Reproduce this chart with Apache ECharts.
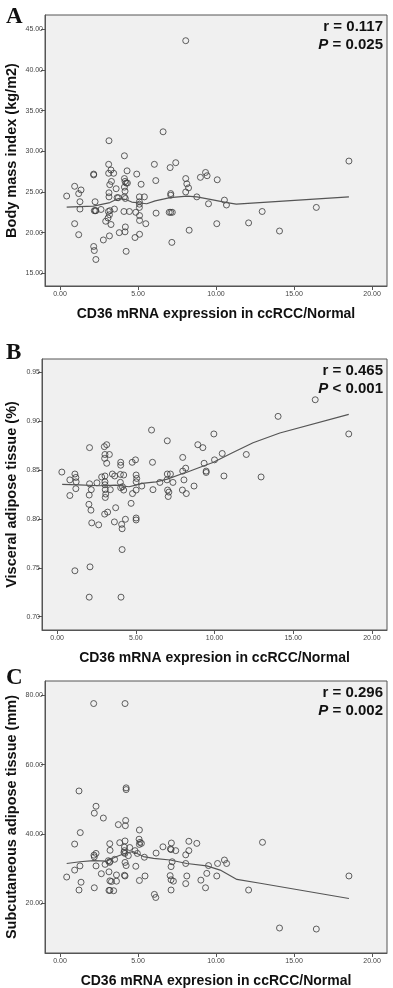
<!DOCTYPE html>
<html>
<head>
<meta charset="utf-8">
<title>CD36 mRNA expression correlations</title>
<script src="https://cdn.jsdelivr.net/npm/echarts@6/dist/echarts.min.js"></script>
<style>
  html, body { margin: 0; padding: 0; background: #fff; }
  #chart { width: 393px; height: 988px; }
</style>
</head>
<body>
<div id="chart"></div>
<script>
// --- data ---
const xTicks = [0, 5, 10, 15, 20];
const bmiTicks = [15, 20, 25, 30, 35, 40, 45];
const vatTicks = [0.70, 0.75, 0.80, 0.85, 0.90, 0.95];
const satTicks = [20, 40, 60, 80];

// A: CD36 ratio vs body mass index
const bmiPoints = [
  [0.43, 24.5], [0.94, 25.7], [0.94, 21.1], [1.2, 24.8], [1.35, 25.25], [1.28, 23.8], [1.28, 22.9], [1.2, 19.75],
  [2.16, 27.2], [2.16, 27.1], [2.2, 22.7], [2.26, 22.7], [2.3, 22.7], [2.25, 23.8], [2.16, 18.3], [2.2, 17.8], [2.3, 16.7],
  [2.63, 22.85], [2.78, 19.1], [2.93, 21.4], [3.12, 28.4], [3.12, 27.3], [3.19, 25.9], [3.27, 27.7], [3.3, 26.3],
  [3.14, 24.9], [3.14, 24.4], [3.2, 22.7], [3.1, 22.6], [3.17, 22.2], [3.08, 21.8], [3.27, 21.0], [3.17, 19.6],
  [3.44, 27.3], [3.49, 22.9], [3.6, 25.4], [3.74, 24.3], [3.66, 24.3], [3.8, 20.0],
  [4.13, 29.45], [4.13, 26.65], [4.17, 26.3], [4.24, 26.1], [4.13, 25.6], [4.17, 25.1], [4.13, 24.4], [4.19, 24.2],
  [4.1, 22.6], [4.19, 20.7], [4.17, 20.1], [4.24, 17.7], [4.3, 27.6], [4.32, 26.1], [4.45, 22.6], [4.81, 19.4],
  [4.92, 27.2], [4.86, 22.5], [5.09, 24.4], [5.09, 23.8], [5.09, 23.5], [5.09, 23.1], [5.1, 22.1], [5.1, 21.5],
  [5.1, 19.8], [5.2, 25.95], [5.41, 24.4], [5.5, 21.1], [6.05, 28.4], [6.14, 26.4], [6.16, 22.4],
  [7.06, 28.0], [7.1, 24.8], [7.1, 24.6], [7.0, 22.5], [7.1, 22.5], [7.2, 22.5], [7.17, 18.8], [7.42, 28.6],
  [8.06, 26.65], [8.13, 26.0], [8.24, 25.5], [8.06, 25.0], [8.28, 20.3], [8.77, 24.4], [9.0, 26.8], [9.33, 27.4],
  [9.43, 27.0], [9.52, 23.55], [10.05, 21.1], [10.08, 26.5], [10.54, 24.0], [10.67, 23.4], [12.09, 21.2],
  [12.96, 22.6], [14.07, 20.2], [16.43, 23.1], [18.52, 28.8], [3.14, 31.3], [6.61, 32.4], [8.06, 43.6]
];
const bmiFitX = [0.43, 2.14, 3.2, 3.74, 4.17, 4.6, 5.56, 6.1, 7.06, 8.13, 8.77, 9.63, 10.7, 11.3, 18.52];
const bmiFitY = [23.14, 23.26, 23.7, 24.2, 24.1, 23.76, 23.55, 23.9, 24.3, 24.5, 24.4, 24.1, 23.7, 23.5, 24.4];

// B: CD36 ratio vs visceral adipose tissue
const vatPoints = [
  [16.4, 0.922], [14.04, 0.905], [18.53, 0.887], [6.0, 0.891], [9.96, 0.887], [7.0, 0.880], [2.06, 0.873],
  [3.15, 0.876], [3.0, 0.874], [8.94, 0.876], [9.26, 0.873], [10.49, 0.867], [12.02, 0.866], [3.04, 0.866],
  [3.32, 0.866], [7.98, 0.863], [10.0, 0.8605], [3.02, 0.862], [3.15, 0.857], [4.04, 0.858], [4.04, 0.855],
  [4.77, 0.858], [4.98, 0.8605], [6.06, 0.858], [9.34, 0.857], [8.17, 0.852], [7.98, 0.849], [9.47, 0.849],
  [10.6, 0.844], [12.96, 0.843],
  [0.3, 0.848], [1.13, 0.846], [0.81, 0.84], [1.19, 0.8425], [1.21, 0.838], [1.19, 0.831], [0.81, 0.824],
  [1.13, 0.747], [2.06, 0.836], [2.17, 0.83], [2.04, 0.8245], [2.02, 0.815], [2.15, 0.809], [2.2, 0.796],
  [2.09, 0.751], [2.04, 0.72], [2.53, 0.837], [2.64, 0.794], [2.83, 0.843], [3.04, 0.844], [3.04, 0.838],
  [3.04, 0.835], [3.06, 0.83], [3.09, 0.8255], [3.06, 0.822], [3.02, 0.805], [3.21, 0.807], [3.38, 0.830],
  [3.51, 0.846], [3.66, 0.844], [3.72, 0.8115], [3.64, 0.797], [4.02, 0.8456], [4.23, 0.845], [4.02, 0.8375],
  [4.04, 0.832], [4.15, 0.833], [4.23, 0.8296], [4.1, 0.7945], [4.13, 0.790], [4.13, 0.7687], [4.06, 0.72],
  [4.34, 0.7997], [4.79, 0.826], [4.7, 0.816], [5.02, 0.845], [5.06, 0.8415], [5.02, 0.838], [5.02, 0.8296],
  [5.02, 0.801], [5.02, 0.799], [5.38, 0.8337], [6.09, 0.830], [6.53, 0.8374], [7.0, 0.846], [7.2, 0.846],
  [6.98, 0.84], [7.02, 0.8296], [7.1, 0.8275], [7.06, 0.823], [7.36, 0.8374], [7.96, 0.8296], [8.06, 0.84],
  [8.21, 0.826], [8.7, 0.8337], [9.47, 0.8476]
];
const vatFitX = [0.32, 1.38, 2.66, 3.72, 4.57, 5.0, 5.4, 6.28, 7.0, 7.98, 8.2, 9.04, 9.9, 11.17, 12.45, 14.15, 18.53];
const vatFitY = [0.8354, 0.835, 0.834, 0.8347, 0.833, 0.8347, 0.8364, 0.838, 0.8408, 0.8466, 0.8476, 0.8527, 0.8578, 0.868, 0.878, 0.888, 0.907];

// C: CD36 ratio vs subcutaneous adipose tissue
const satPoints = [
  [2.16, 77.6], [4.17, 77.6], [1.22, 52.4], [4.24, 53.3], [4.24, 52.8], [2.31, 48.0], [2.2, 46.0], [2.78, 44.6],
  [4.21, 43.9], [3.74, 42.7], [4.19, 42.4], [5.09, 41.15], [1.3, 40.4], [0.94, 37.1], [3.19, 37.2], [3.83, 37.5],
  [4.17, 38.0], [5.07, 38.5], [5.13, 37.6], [5.22, 37.3], [5.09, 37.0], [7.14, 37.4], [6.6, 36.3], [8.26, 37.9],
  [8.77, 37.3], [12.98, 37.6], [4.13, 36.2], [4.47, 36.1], [3.21, 35.3], [4.13, 35.2], [4.81, 35.2], [4.96, 34.4],
  [7.08, 35.7], [7.12, 35.5], [7.42, 35.2], [8.26, 35.2], [6.16, 34.5], [8.06, 34.0], [4.1, 34.7], [4.16, 34.4],
  [4.38, 33.75], [2.18, 33.9], [2.2, 33.4], [2.31, 34.4], [3.5, 32.7], [5.41, 33.3], [3.1, 32.3], [3.17, 31.8],
  [3.21, 32.1], [10.54, 32.5], [10.68, 31.5], [10.1, 31.5], [8.06, 31.5], [7.19, 32.0], [7.12, 30.6], [9.52, 30.9],
  [4.86, 30.7], [4.17, 31.8], [4.24, 30.9], [2.89, 31.25], [1.28, 30.8], [2.31, 30.8], [0.94, 29.6], [3.14, 29.1],
  [9.41, 28.65], [2.65, 28.55], [3.62, 28.2], [4.13, 28.1], [4.17, 27.9], [5.45, 27.9], [7.06, 28.0], [8.13, 27.9],
  [10.05, 27.9], [18.52, 27.9], [0.43, 27.6], [7.12, 26.8], [9.03, 26.7], [7.27, 26.4], [5.09, 26.6], [3.2, 26.5],
  [3.3, 26.3], [1.35, 26.1], [3.62, 26.4], [8.06, 25.7], [2.2, 24.5], [9.33, 24.5], [1.22, 23.85], [3.14, 23.75],
  [3.2, 23.75], [3.44, 23.65], [7.12, 23.85], [12.09, 23.85], [6.05, 22.6], [6.14, 21.7], [14.07, 12.9], [16.43, 12.6]
];
const satFitX = [0.43, 1.28, 2.14, 3.0, 3.64, 4.28, 4.7, 5.35, 6.0, 7.06, 8.13, 9.41, 10.27, 11.34, 12.83, 18.52];
const satFitY = [31.5, 32.0, 32.3, 32.2, 33.5, 34.6, 34.9, 33.5, 33.0, 32.5, 31.5, 30.8, 29.6, 26.9, 25.8, 21.4];

// --- styling / layout ---
const FONT = 'Liberation Sans, Arial, sans-serif';
const panels = [
  { letter: 'A', letterTop: 6, top: 15, height: 271, left: 45, yMin: 13.44, yMax: 46.76, ticks: bmiTicks,
    yName: 'Body mass index (kg/m2)', xName: 'CD36 mRNA expression in ccRCC/Normal',
    r: '0.117', p: '= 0.025', points: bmiPoints, fitX: bmiFitX, fitY: bmiFitY },
  { letter: 'B', letterTop: 342, top: 359, height: 271, left: 42, yMin: 0.6864, yMax: 0.9637, ticks: vatTicks,
    yName: 'Visceral adipose tissue (%)', xName: 'CD36 mRNA expresion in ccRCC/Normal',
    r: '0.465', p: '< 0.001', points: vatPoints, fitX: vatFitX, fitY: vatFitY },
  { letter: 'C', letterTop: 667, top: 681, height: 272, left: 45, yMin: 5.7, yMax: 84.1, ticks: satTicks,
    yName: 'Subcutaneous adipose tissue (mm)', xName: 'CD36 mRNA expresion in ccRCC/Normal',
    r: '0.296', p: '= 0.002', points: satPoints, fitX: satFitX, fitY: satFitY }
];

const chart = echarts.init(document.getElementById('chart'), null, { renderer: 'canvas' });

const grid = [], xAxis = [], yAxis = [], series = [], graphic = [];
panels.forEach((p, i) => {
  grid.push({
    left: p.left, right: 6, top: p.top, height: p.height,
    outerBoundsMode: 'none', containLabel: false,
    show: true, backgroundColor: '#f0f0f0', borderColor: '#555', borderWidth: 1
  });
  xAxis.push({
    gridIndex: i, type: 'value', min: -0.96, max: 20.96,
    name: p.xName, nameLocation: 'middle', nameGap: 21, nameMoveOverlap: false,
    nameTextStyle: { fontFamily: FONT, fontWeight: 'bold', fontSize: 14, color: '#111' },
    axisLine: { onZero: false, lineStyle: { color: '#555' } },
    axisTick: { customValues: xTicks, length: 4, lineStyle: { color: '#555' } },
    axisLabel: {
      customValues: xTicks, fontSize: 7, color: '#444', fontFamily: FONT, margin: 5,
      formatter: v => v.toFixed(2)
    },
    splitLine: { show: false }
  });
  yAxis.push({
    gridIndex: i, type: 'value', min: p.yMin, max: p.yMax,
    name: p.yName, nameLocation: 'middle', nameGap: p.left - 19, nameMoveOverlap: false,
    nameTextStyle: { fontFamily: FONT, fontWeight: 'bold', fontSize: 14.5, color: '#111' },
    axisLine: { show: true, onZero: false, lineStyle: { color: '#555' } },
    axisTick: { show: true, customValues: p.ticks, length: 4, lineStyle: { color: '#555' } },
    axisLabel: {
      customValues: p.ticks, fontSize: 7, color: '#444', fontFamily: FONT, margin: 2,
      formatter: v => v.toFixed(2)
    },
    splitLine: { show: false }
  });
  series.push({
    type: 'scatter', xAxisIndex: i, yAxisIndex: i,
    data: p.points, symbol: 'circle', symbolSize: 6,
    itemStyle: { color: 'rgba(0,0,0,0)', borderColor: '#3a3a3a', borderWidth: 1 },
    silent: true
  });
  series.push({
    type: 'line', xAxisIndex: i, yAxisIndex: i,
    data: p.fitX.map((x, k) => [x, p.fitY[k]]),
    showSymbol: false, smooth: false,
    lineStyle: { color: '#555', width: 1.2 },
    silent: true
  });
  graphic.push({
    type: 'text', left: 6, top: p.letterTop,
    style: { text: p.letter, font: 'bold 23px "Liberation Serif", "Times New Roman", serif', fill: '#111' }
  });
  graphic.push({
    type: 'text', right: 10, top: p.top + 4,
    style: {
      text: '{n|r = ' + p.r + '}\n{i|P}{n| ' + p.p + '}',
      align: 'right',
      rich: {
        n: { fontFamily: FONT, fontWeight: 'bold', fontSize: 15, lineHeight: 18, fill: '#111', align: 'right' },
        i: { fontFamily: FONT, fontWeight: 'bold', fontStyle: 'italic', fontSize: 15, lineHeight: 18, fill: '#111', align: 'right' }
      }
    }
  });
});

chart.setOption({
  animation: false,
  grid, xAxis, yAxis, series, graphic
});

window.addEventListener('resize', () => chart.resize());
</script>
</body>
</html>
